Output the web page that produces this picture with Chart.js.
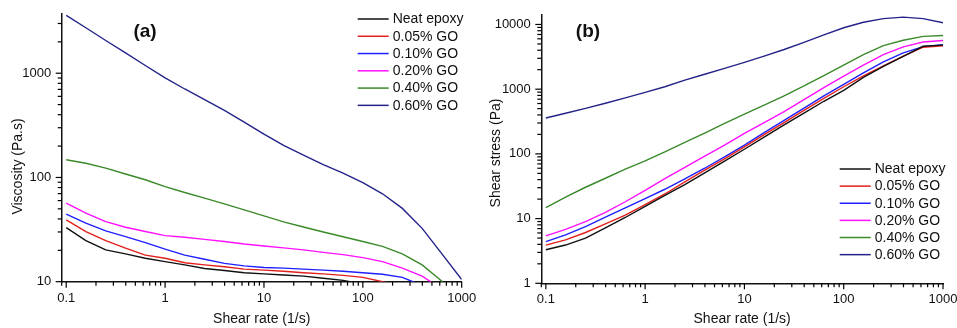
<!DOCTYPE html>
<html>
<head>
<meta charset="utf-8">
<script src="https://cdn.jsdelivr.net/npm/chart.js@4.4.1/dist/chart.umd.min.js"></script>
<style>
  body { margin: 0; background: #fff; }
  canvas { position: absolute; top: 0; }
</style>
</head>
<body>
<canvas id="chartA" width="478" height="328" style="left:0"></canvas>
<canvas id="chartB" width="479" height="328" style="left:478px"></canvas>
<script>
// shear rate steps (1/s)
const shearRate = [0.1, 0.158, 0.251, 0.398, 0.631, 1, 1.58, 2.51, 3.98, 6.31, 10, 15.8, 25.1, 39.8, 63.1, 100, 158, 251, 398, 631, 1000];
const seriesNames = ['Neat epoxy', '0.05% GO', '0.10% GO', '0.20% GO', '0.40% GO', '0.60% GO'];
const seriesColors = ['#111111', '#e3201b', '#1f1fff', '#ff10ff', '#3a8a2a', '#23238a'];

// (a) viscosity, Pa.s
const viscNeat = [33.0, 24.8, 20.2, 18.5, 16.8, 15.6, 14.5, 13.4, 12.8, 12.2, 11.9, 11.6, 11.3, 10.8, 10.3, 9.5, 9.3, 8.9, 8.0, 7.2, 4.8];
const viscGO005 = [39.2, 30.3, 24.8, 21.0, 18.0, 16.8, 15.2, 14.5, 13.9, 13.2, 12.9, 12.6, 12.2, 11.9, 11.5, 11.0, 10.0, 9.2, 8.2, 7.0, 4.7];
const viscGO010 = [44.4, 36.4, 30.7, 27.1, 23.7, 20.5, 18.0, 16.4, 15.0, 14.2, 13.7, 13.5, 13.2, 12.9, 12.6, 12.2, 11.8, 11.0, 9.2, 7.2, 4.9];
const viscGO020 = [56.6, 45.4, 37.7, 33.3, 30.3, 27.7, 26.7, 25.5, 24.3, 23.0, 22.0, 21.1, 20.2, 19.1, 18.2, 17.0, 15.6, 13.5, 11.3, 8.5, 5.6];
const viscGO040 = [148, 137, 123, 108, 95, 81.8, 71.7, 63.3, 55.8, 48.9, 42.8, 37.5, 33.5, 30.0, 27.0, 24.3, 21.8, 18.5, 14.5, 10.1, 6.7];
const viscGO060 = [3585, 2730, 2060, 1570, 1186, 902, 706, 558, 441, 340, 260, 203, 164, 133, 110, 89, 69.7, 50.5, 32.5, 18.5, 10.5];

// (b) shear stress, Pa
const stressNeat = [3.3, 3.9, 5.0, 7.2, 10.4, 15.5, 22.8, 33.5, 51, 77, 118, 182, 280, 425, 650, 960, 1520, 2250, 3200, 4600, 4800];
const stressGO005 = [3.9, 4.7, 6.1, 8.3, 11.3, 16.5, 24, 37, 56, 84, 128, 198, 305, 470, 720, 1090, 1600, 2300, 3250, 4450, 4700];
const stressGO010 = [4.4, 5.6, 7.5, 10.5, 14.6, 20.3, 28.4, 41, 60, 90, 137, 213, 330, 510, 790, 1190, 1780, 2650, 3650, 4550, 4870];
const stressGO020 = [5.4, 6.8, 9.0, 12.5, 18.2, 27.2, 41.5, 62, 92, 137, 208, 305, 450, 690, 1060, 1590, 2350, 3420, 4500, 5350, 5650];
const stressGO040 = [14.8, 21.5, 30.5, 42, 58, 78, 107, 150, 210, 295, 410, 565, 790, 1120, 1620, 2350, 3420, 4700, 5700, 6550, 6750];
const stressGO060 = [358, 425, 505, 605, 735, 890, 1090, 1380, 1700, 2100, 2600, 3250, 4100, 5300, 6900, 8900, 10800, 12300, 13000, 12300, 10600];

const FONT = '"Liberation Sans", Arial, sans-serif';
const TEXT = '#111';

function isDecade(v) {
    const l = Math.log10(v);
    return Math.abs(l - Math.round(l)) < 1e-6;
}

// minor/major log tick marks, panel letter, y title and legend
const decor = {
    id: 'decor',
    afterDraw(chart, args, opts) {
        const ctx = chart.ctx;
        const { left, bottom } = chart.chartArea;
        ctx.save();
        ctx.strokeStyle = '#000';
        ctx.lineWidth = 1.2;
        ['x', 'y'].forEach(id => {
            const sc = chart.scales[id];
            for (let e = Math.floor(Math.log10(sc.min)); e <= Math.ceil(Math.log10(sc.max)); e++) {
                for (let k = 1; k < 10; k++) {
                    const v = k * Math.pow(10, e);
                    if (v < sc.min * 0.999 || v > sc.max * 1.001) continue;
                    const len = k === 1 ? 6 : 4;
                    const p = sc.getPixelForValue(v);
                    ctx.beginPath();
                    if (id === 'x') {
                        ctx.moveTo(p, bottom);
                        ctx.lineTo(p, bottom + len);
                    } else {
                        ctx.moveTo(left, p);
                        ctx.lineTo(left - len, p);
                    }
                    ctx.stroke();
                }
            }
        });

        ctx.fillStyle = TEXT;
        ctx.font = 'bold 19px ' + FONT;
        ctx.textAlign = 'center';
        ctx.textBaseline = 'middle';
        ctx.fillText(opts.panel, opts.panelX, opts.panelY);

        ctx.font = '14px ' + FONT;
        ctx.save();
        ctx.translate(opts.yTitleX, opts.yTitleY);
        ctx.rotate(-Math.PI / 2);
        ctx.fillText(opts.yTitle, 0, 0);
        ctx.restore();

        ctx.textAlign = 'left';
        ctx.lineWidth = 1.5;
        chart.data.datasets.forEach((ds, i) => {
            const y = opts.legendY + i * opts.legendGap;
            ctx.strokeStyle = ds.borderColor;
            ctx.beginPath();
            ctx.moveTo(opts.legendX, y);
            ctx.lineTo(opts.legendX + 31, y);
            ctx.stroke();
            ctx.fillText(ds.label, opts.legendX + 35, y + 0.5);
        });
        ctx.restore();
    }
};

function makeChart(id, series, box, yMin, yMax, decorOpts) {
    const datasets = series.map((values, i) => ({
        label: seriesNames[i],
        data: values.map((v, j) => ({ x: shearRate[j], y: v })),
        borderColor: seriesColors[i],
        borderWidth: 1.4,
        pointRadius: 0,
        fill: false,
        tension: 0
    }));
    const canvas = document.getElementById(id);
    return new Chart(canvas, {
        type: 'line',
        data: { datasets },
        options: {
            responsive: false,
            animation: false,
            events: [],
            layout: { padding: { left: 0, top: box.top, right: canvas.width - box.right, bottom: 0 } },
            plugins: { legend: { display: false }, tooltip: { enabled: false }, decor: decorOpts },
            scales: {
                x: {
                    type: 'logarithmic',
                    min: 0.09,
                    max: 1000,
                    grid: { display: false, drawTicks: false },
                    border: { display: true, color: '#111', width: 1.5 },
                    ticks: {
                        autoSkip: false,
                        maxRotation: 0,
                        padding: 8.5,
                        color: TEXT,
                        font: { family: FONT, size: 13 },
                        callback: v => isDecade(v) ? String(v) : ''
                    },
                    title: { display: true, text: 'Shear rate (1/s)', color: TEXT, font: { family: FONT, size: 14 }, padding: { top: 0, bottom: 0 } },
                    afterFit: s => { s.height = canvas.height - box.bottom; s.paddingLeft = 0; s.paddingRight = 0; }
                },
                y: {
                    type: 'logarithmic',
                    min: yMin,
                    max: yMax,
                    grid: { display: false, drawTicks: false },
                    border: { display: true, color: '#111', width: 1.5 },
                    ticks: {
                        autoSkip: false,
                        padding: 10.5,
                        color: TEXT,
                        font: { family: FONT, size: 13 },
                        callback: v => isDecade(v) ? String(v) : ''
                    },
                    afterFit: s => { s.width = box.left; s.paddingTop = 0; s.paddingBottom = 0; }
                }
            }
        },
        plugins: [decor]
    });
}

makeChart('chartA',
    [viscNeat, viscGO005, viscGO010, viscGO020, viscGO040, viscGO060],
    { left: 61.7, right: 461.7, top: 14, bottom: 281.7 },
    10, 3700,
    { panel: '(a)', panelX: 145, panelY: 31.7, yTitle: 'Viscosity (Pa.s)', yTitleX: 18.3, yTitleY: 166.5,
      legendX: 357.7, legendY: 19, legendGap: 17.27 });

makeChart('chartB',
    [stressNeat, stressGO005, stressGO010, stressGO020, stressGO040, stressGO060],
    { left: 63.3, right: 465, top: 15, bottom: 283.3 },
    1, 14000,
    { panel: '(b)', panelX: 110, panelY: 31.7, yTitle: 'Shear stress (Pa)', yTitleX: 18.3, yTitleY: 153,
      legendX: 361.7, legendY: 169, legendGap: 17.13 });
</script>
</body>
</html>
